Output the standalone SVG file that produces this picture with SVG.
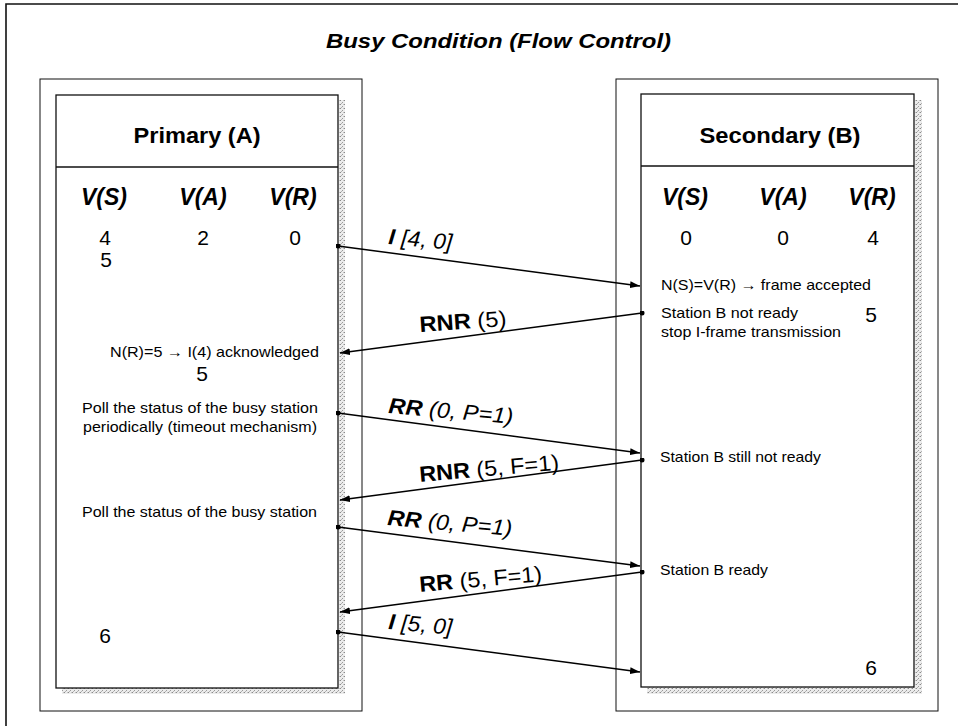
<svg xmlns="http://www.w3.org/2000/svg" width="958" height="726" viewBox="0 0 958 726">
  <style>
    text { font-family: "Liberation Sans", Arial, sans-serif; fill: #000; }
    .title { font-size: 21px; font-weight: bold; font-style: italic; }
    .head { font-size: 22px; font-weight: bold; text-anchor: middle; }
    .var { font-size: 23px; font-weight: bold; font-style: italic; text-anchor: middle; }
    .num { font-size: 21px; text-anchor: middle; }
    .note { font-size: 15px; }
    .lbl { font-size: 22px; }
    .b { font-weight: bold; }
    .bi { font-weight: bold; font-style: italic; }
    .it { font-style: italic; }
    .frame { fill: none; stroke: #111; stroke-width: 1; }
    .box { fill: #fff; stroke: #111; stroke-width: 1.3; }
    .shadow { fill: url(#stipple); }
    .msg { fill: none; stroke: #000; stroke-width: 1.5; marker-start: url(#dot); marker-end: url(#head); }
  </style>
  <defs>
    <!-- light dotted fill for the drop shadows -->
    <pattern id="stipple" width="4" height="4" patternUnits="userSpaceOnUse">
      <rect width="4" height="4" fill="#ececec"/>
      <rect width="1" height="1" fill="#8a8a8a"/>
      <rect x="2" y="2" width="1" height="1" fill="#9a9a9a"/>
      <rect x="3" y="0" width="1" height="1" fill="#c4c4c4"/>
      <rect x="1" y="3" width="1" height="1" fill="#b4b4b4"/>
    </pattern>
    <marker id="head" viewBox="0 0 10 7" refX="10" refY="3.5" markerWidth="10" markerHeight="7" markerUnits="userSpaceOnUse" orient="auto">
      <path d="M0,0 L10,3.5 L0,7 z" fill="#000"/>
    </marker>
    <marker id="dot" viewBox="0 0 6 6" refX="3" refY="3" markerWidth="5" markerHeight="5" markerUnits="userSpaceOnUse">
      <circle cx="3" cy="3" r="3" fill="#000"/>
    </marker>
  </defs>

  <rect width="958" height="726" fill="#fff"/>

  <!-- page border (top and left edges) -->
  <path d="M6,730 L6,4 L958,4" fill="none" stroke="#111" stroke-width="1.6"/>

  <text class="title" x="326" y="48" textLength="345" lengthAdjust="spacingAndGlyphs">Busy Condition (Flow Control)</text>

  <!-- Primary station -->
  <g id="primary">
    <rect class="frame" x="40" y="79" width="322" height="632"/>
    <rect class="shadow" x="339" y="100" width="6" height="594"/>
    <rect class="shadow" x="62" y="688" width="283" height="6"/>
    <rect class="box" x="56" y="95" width="282" height="593"/>
    <line x1="56" y1="167" x2="338" y2="167" stroke="#111" stroke-width="1.3"/>
    <text class="head" x="197" y="143" textLength="127" lengthAdjust="spacingAndGlyphs">Primary (A)</text>
    <text class="var" x="104" y="205">V(S)</text>
    <text class="var" x="203" y="205">V(A)</text>
    <text class="var" x="293" y="205">V(R)</text>
    <text class="num" x="105" y="245">4</text>
    <text class="num" x="203" y="245">2</text>
    <text class="num" x="295" y="245">0</text>
    <text class="num" x="106" y="267">5</text>
    <text class="note" x="110" y="357" textLength="209" lengthAdjust="spacingAndGlyphs">N(R)=5 → I(4) acknowledged</text>
    <text class="num" x="202" y="381">5</text>
    <text class="note" x="82" y="413" textLength="236" lengthAdjust="spacingAndGlyphs">Poll the status of the busy station</text>
    <text class="note" x="83" y="432" textLength="234" lengthAdjust="spacingAndGlyphs">periodically (timeout mechanism)</text>
    <text class="note" x="82" y="517" textLength="235" lengthAdjust="spacingAndGlyphs">Poll the status of the busy station</text>
    <text class="num" x="105" y="643">6</text>
  </g>

  <!-- Secondary station -->
  <g id="secondary">
    <rect class="frame" x="616" y="79" width="322" height="632"/>
    <rect class="shadow" x="915" y="100" width="7" height="594"/>
    <rect class="shadow" x="647" y="687" width="275" height="7"/>
    <rect class="box" x="641" y="94" width="273" height="593"/>
    <line x1="641" y1="166" x2="914" y2="166" stroke="#111" stroke-width="1.3"/>
    <text class="head" x="780" y="143" textLength="161" lengthAdjust="spacingAndGlyphs">Secondary (B)</text>
    <text class="var" x="685" y="205">V(S)</text>
    <text class="var" x="783" y="205">V(A)</text>
    <text class="var" x="872" y="205">V(R)</text>
    <text class="num" x="686" y="245">0</text>
    <text class="num" x="783" y="245">0</text>
    <text class="num" x="873" y="245">4</text>
    <text class="note" x="661" y="290" textLength="210" lengthAdjust="spacingAndGlyphs">N(S)=V(R) → frame accepted</text>
    <text class="note" x="661" y="318" textLength="137" lengthAdjust="spacingAndGlyphs">Station B not ready</text>
    <text class="note" x="661" y="337" textLength="180" lengthAdjust="spacingAndGlyphs">stop I-frame transmission</text>
    <text class="num" x="871" y="322">5</text>
    <text class="note" x="660" y="462" textLength="161" lengthAdjust="spacingAndGlyphs">Station B still not ready</text>
    <text class="note" x="660" y="575" textLength="108" lengthAdjust="spacingAndGlyphs">Station B ready</text>
    <text class="num" x="871" y="675">6</text>
  </g>

  <!-- frame exchange -->
  <g id="connectors">
    <line class="msg" x1="338" y1="246" x2="640" y2="286"/>
    <line class="msg" x1="642" y1="313" x2="340" y2="353"/>
    <line class="msg" x1="338" y1="413" x2="640" y2="453"/>
    <line class="msg" x1="642" y1="460" x2="340" y2="500"/>
    <line class="msg" x1="338" y1="527" x2="640" y2="566"/>
    <line class="msg" x1="642" y1="572" x2="340" y2="612"/>
    <line class="msg" x1="338" y1="632" x2="640" y2="672"/>

    <text class="lbl" x="388" y="244" transform="rotate(5 388 244)" textLength="64" lengthAdjust="spacingAndGlyphs"><tspan class="bi">I</tspan><tspan class="it"> [4, 0]</tspan></text>
    <text class="lbl" x="420" y="332" transform="rotate(-4 420 332)" textLength="87" lengthAdjust="spacingAndGlyphs"><tspan class="b">RNR</tspan> (5)</text>
    <text class="lbl" x="388" y="413" transform="rotate(5 388 413)" textLength="125" lengthAdjust="spacingAndGlyphs"><tspan class="bi">RR</tspan><tspan class="it"> (0, P=1)</tspan></text>
    <text class="lbl" x="420" y="482" transform="rotate(-5 420 482)" textLength="140" lengthAdjust="spacingAndGlyphs"><tspan class="b">RNR</tspan> (5, F=1)</text>
    <text class="lbl" x="387" y="525" transform="rotate(5 387 525)" textLength="125" lengthAdjust="spacingAndGlyphs"><tspan class="bi">RR</tspan><tspan class="it"> (0, P=1)</tspan></text>
    <text class="lbl" x="420" y="592" transform="rotate(-5 420 592)" textLength="123" lengthAdjust="spacingAndGlyphs"><tspan class="b">RR</tspan> (5, F=1)</text>
    <text class="lbl" x="388" y="629" transform="rotate(5 388 629)" textLength="64" lengthAdjust="spacingAndGlyphs"><tspan class="bi">I</tspan><tspan class="it"> [5, 0]</tspan></text>
  </g>
</svg>
